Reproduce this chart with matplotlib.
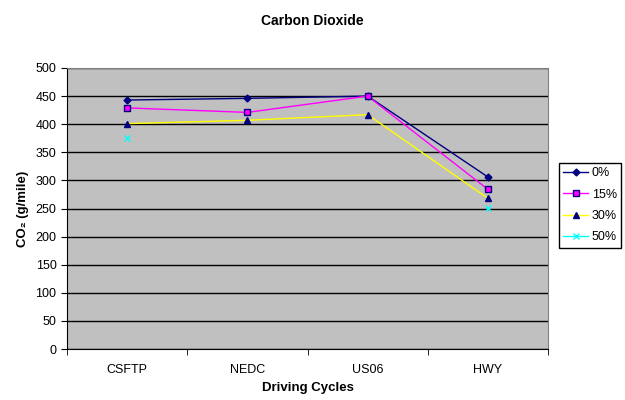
import numpy as np
import matplotlib.pyplot as plt

plt.rcParams['font.family'] = ['Liberation Sans', 'DejaVu Sans']

cycles = ['CSFTP', 'NEDC', 'US06', 'HWY']
co2_0 = [443, 446, 450, 306]
co2_15 = [429, 421, 450, 284]
co2_30 = [401, 407, 417, 268]
co2_50 = [375, np.nan, np.nan, 251]
labels = ['0%', '15%', '30%', '50%']


def main():
    fig = plt.figure(figsize=(6.25, 4.0), dpi=100)
    ax = fig.add_axes([0.107, 0.1275, 0.77, 0.7025])
    ax.set_facecolor('#C0C0C0')

    x = np.arange(len(cycles))
    ax.plot(x, co2_0, color='#000080', lw=1, marker='D', ms=3.5,
            mfc='#000080', mec='#000080', label=labels[0])
    ax.plot(x, co2_15, color='#FF00FF', lw=1, marker='s', ms=4.5,
            mfc='#FF00FF', mec='#000080', label=labels[1])
    ax.plot(x, co2_30, color='#FFFF00', lw=1, marker='^', ms=5,
            mfc='#000080', mec='#000080', label=labels[2])
    ax.plot(x, co2_50, color='#00FFFF', lw=1, marker='x', ms=4.5,
            mec='#00FFFF', mew=1, label=labels[3])

    ax.set_xlim(-0.5, 3.5)
    ax.set_ylim(0, 500)
    ax.set_yticks(range(0, 501, 50))
    ax.yaxis.grid(True, color='black', lw=1)
    ax.set_axisbelow(True)
    ax.set_xticks(x)
    ax.set_xticklabels(cycles, fontsize=9)
    ax.set_xticks(np.arange(-0.5, 4, 1), minor=True)
    ax.tick_params(axis='x', which='major', length=0, pad=11)
    ax.tick_params(axis='x', which='minor', length=4, direction='out')
    ax.tick_params(axis='y', labelsize=9, length=4, direction='out')

    for side in ['top', 'right']:
        ax.spines[side].set_color('#808080')
    for side in ['left', 'bottom']:
        ax.spines[side].set_color('black')

    ax.set_xlabel('Driving Cycles', fontsize=9.5, fontweight='bold', labelpad=4)
    ax.set_ylabel('CO\u2082 (g/mile)', fontsize=9.5, fontweight='bold', labelpad=5)
    fig.text(0.5, 0.948, 'Carbon Dioxide', ha='center', va='center',
             fontsize=10, fontweight='bold')

    leg = ax.legend(loc='upper left', bbox_to_anchor=(0.894, 0.5925),
                    bbox_transform=fig.transFigure, borderaxespad=0,
                    fontsize=9, frameon=True, fancybox=False, edgecolor='black',
                    handlelength=2.0, handletextpad=0.3, borderpad=0.35,
                    labelspacing=0.75, framealpha=1)
    leg.get_frame().set_linewidth(1)

    fig.savefig('out.png', dpi=100)


if __name__ == '__main__':
    main()
